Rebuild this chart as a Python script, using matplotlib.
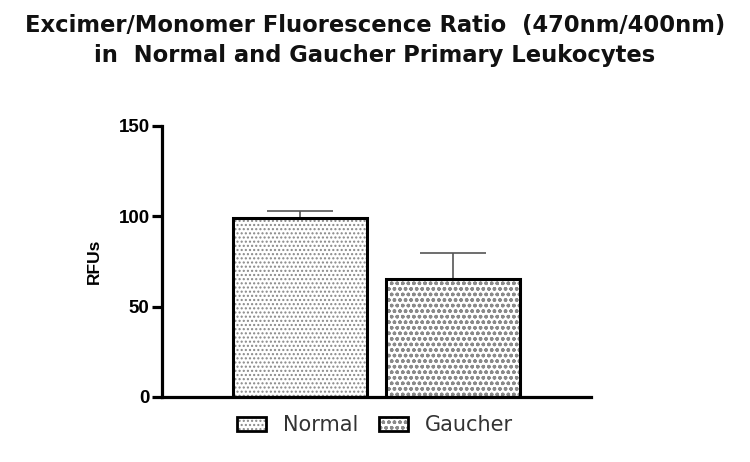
import matplotlib
matplotlib.use("Agg")
import matplotlib.pyplot as plt
from matplotlib.patches import Patch
from matplotlib.legend_handler import HandlerTuple

groups = ["Normal", "Gaucher"]
means = [99.0, 65.5]
errs_up = [4.0, 14.0]
hatches = ["....", "ooo"]
hatch_colors = ["#888888", "#8a8a8a"]
y_ticks = [0, 50, 100, 150]

plt.rcParams['hatch.linewidth'] = 1.0

fig = plt.figure(figsize=(7.5, 4.62), dpi=100)
ax = fig.add_axes([0.216, 0.1407, 0.572, 0.587])

xs = list(range(len(groups)))
for x, m, e, h, hc in zip(xs, means, errs_up, hatches, hatch_colors):
    # hatch layer in grey, then black outline on top
    ax.bar(x, m, width=0.873, color="white", edgecolor=hc,
           linewidth=0, hatch=h, zorder=2)
    ax.bar(x, m, width=0.873, color="none", edgecolor="black",
           linewidth=2.2, zorder=3)
    ax.errorbar(x, m, yerr=[[0], [e]], fmt="none", ecolor="#555555",
                elinewidth=1.2, capsize=24, capthick=1.2, zorder=1)

ax.set_xlim(-0.899, 1.896)
ax.set_ylim(0, 150)
ax.set_yticks(y_ticks)
ax.set_xticks([])
for s in ["top", "right"]:
    ax.spines[s].set_visible(False)
for s in ["left", "bottom"]:
    ax.spines[s].set_linewidth(2.3)
ax.tick_params(axis="y", direction="out", length=7, width=2.3, pad=2)
for lbl in ax.get_yticklabels():
    lbl.set_fontfamily("Liberation Sans")
    lbl.set_fontweight("bold")
    lbl.set_fontsize(13.5)
ax.set_ylabel("RFUs", fontfamily="Liberation Sans", fontweight="bold",
              fontsize=12.5, labelpad=12)

fig.text(0.5, 0.97, "Excimer/Monomer Fluorescence Ratio  (470nm/400nm)\nin  Normal and Gaucher Primary Leukocytes",
         ha="center", va="top", fontfamily="DejaVu Sans", fontweight="bold",
         fontsize=16.3, linespacing=1.38, color="#111111")

handles = []
for h, hc in zip(hatches, hatch_colors):
    fill = Patch(facecolor="white", edgecolor=hc, linewidth=0, hatch=h)
    edge = Patch(facecolor="none", edgecolor="black", linewidth=2.0)
    handles.append((fill, edge))
leg = fig.legend(handles, groups, loc="center", bbox_to_anchor=(0.5, 0.08),
                 ncol=2, frameon=False,
                 prop={"family": "DejaVu Sans", "size": 15},
                 handler_map={tuple: HandlerTuple(ndivide=1)},
                 handlelength=1.4, handleheight=0.65, columnspacing=1.0,
                 handletextpad=0.8)
for t in leg.get_texts():
    t.set_color("#333333")

fig.savefig("out.png", dpi=100)
